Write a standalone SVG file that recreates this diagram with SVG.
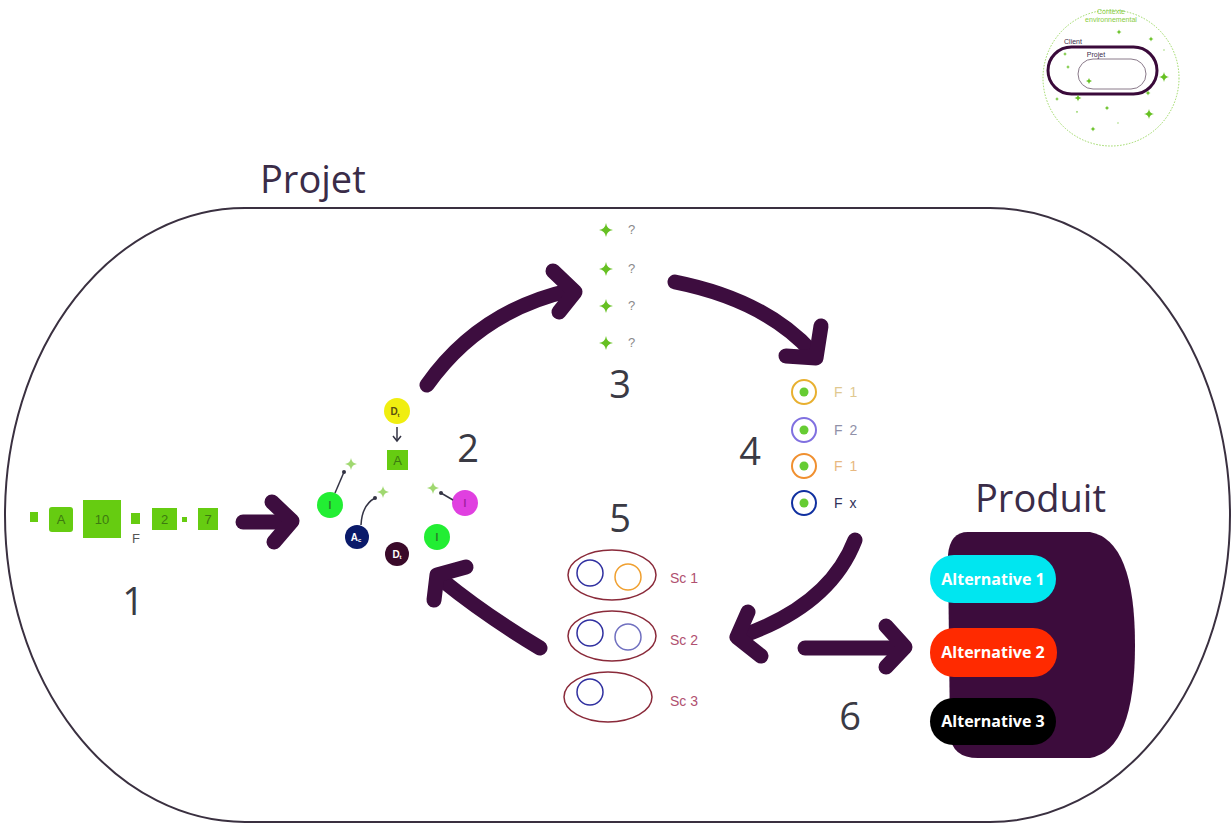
<svg xmlns="http://www.w3.org/2000/svg" xmlns:xlink="http://www.w3.org/1999/xlink" width="1232" height="826" viewBox="0 0 1232 826">
<style>
  .big { font-family: "Open Sans", "DejaVu Sans", sans-serif; fill: #3a2c48; }
  .num { font-family: "Open Sans", "DejaVu Sans", sans-serif; font-size: 38px; fill: #3a3a44; text-anchor: middle; }
  .arrow { fill: none; stroke: #3d0d3f; stroke-width: 15; stroke-linecap: round; stroke-linejoin: round; }
  .sq { fill: #66cc11; }
  .sqt { font-family: "Liberation Sans", sans-serif; font-size: 13px; fill: #3d7a10; text-anchor: middle; }
  .ct { font-family: "Liberation Sans", sans-serif; font-size: 10px; text-anchor: middle; font-weight: bold; }
  .q { font-family: "Liberation Sans", sans-serif; font-size: 13px; fill: #8a8a8a; }
  .ft { font-family: "Liberation Sans", sans-serif; font-size: 14px; letter-spacing: 1.5px; }
  .sc { font-family: "Liberation Sans", sans-serif; font-size: 14px; fill: #b05070; }
  .alt { font-family: "Open Sans", "Liberation Sans", sans-serif; font-size: 16px; font-weight: bold; fill: #ffffff; text-anchor: middle; }
  .tiny { font-family: "Liberation Sans", sans-serif; font-size: 7px; text-anchor: middle; }
  .spark { fill: #66c022; }
</style>
<defs>
  <path id="star" d="M0,-1 Q0.12,-0.12 1,0 Q0.12,0.12 0,1 Q-0.12,0.12 -1,0 Q-0.12,-0.12 0,-1Z"/>
</defs>
<rect width="1232" height="826" fill="#ffffff"/>

<g id="inset">
  <circle cx="1111" cy="78" r="68" fill="none" stroke="#9ad860" stroke-width="1" stroke-dasharray="1.5,1.5"/>
  <text class="tiny" x="1111" y="14" fill="#88cc44">Contexte</text>
  <text class="tiny" x="1111" y="22" fill="#88cc44">environnemental</text>
  <rect x="1048" y="47" width="109" height="47" rx="23.5" fill="none" stroke="#3a0a3a" stroke-width="3"/>
  <text class="tiny" x="1073" y="44" fill="#3a2a4a">Client</text>
  <rect x="1078" y="59" width="68" height="30" rx="15" fill="none" stroke="#8a7a8a" stroke-width="1"/>
  <text class="tiny" x="1096" y="57" fill="#3a2a4a">Projet</text>
  <g class="spark">
    <use xlink:href="#star" transform="translate(1119,32) scale(2.5)"/>
    <use xlink:href="#star" transform="translate(1151,39) scale(2.5)"/>
    <use xlink:href="#star" transform="translate(1164,50) scale(1)"/>
    <use xlink:href="#star" transform="translate(1065,54) scale(2)"/>
    <use xlink:href="#star" transform="translate(1068,67) scale(2)"/>
    <use xlink:href="#star" transform="translate(1089,81) scale(3)"/>
    <use xlink:href="#star" transform="translate(1164,77) scale(5)"/>
    <use xlink:href="#star" transform="translate(1148,93) scale(2.5)"/>
    <use xlink:href="#star" transform="translate(1057,99) scale(2)"/>
    <use xlink:href="#star" transform="translate(1078,98) scale(3.5)"/>
    <use xlink:href="#star" transform="translate(1077,112) scale(1.2)"/>
    <use xlink:href="#star" transform="translate(1107,108) scale(2.2)"/>
    <use xlink:href="#star" transform="translate(1149,114) scale(5)"/>
    <use xlink:href="#star" transform="translate(1118,123) scale(1)"/>
    <use xlink:href="#star" transform="translate(1093,129) scale(2.5)"/>
  </g>
</g>

<g id="projet">
  <rect x="5" y="208" width="1225" height="614" rx="240" ry="307" fill="none" stroke="#3a3040" stroke-width="2"/>
  <text class="big" x="260" y="193" font-size="38">Projet</text>
</g>

<g id="node1">
  <rect class="sq" x="30" y="512" width="8" height="10"/>
  <rect class="sq" x="49" y="507" width="24" height="25" rx="3"/>
  <text class="sqt" x="61" y="524">A</text>
  <rect class="sq" x="83" y="500" width="38" height="38"/>
  <text class="sqt" x="102" y="524">10</text>
  <rect class="sq" x="131" y="513" width="9" height="11"/>
  <text class="sqt" x="136" y="543" style="fill:#555555">F</text>
  <rect class="sq" x="152" y="508" width="25" height="22"/>
  <text class="sqt" x="164.5" y="524">2</text>
  <rect class="sq" x="182" y="517" width="5" height="5"/>
  <rect class="sq" x="198" y="508" width="20" height="22"/>
  <text class="sqt" x="208" y="524">7</text>
  <text class="num" x="133" y="615">1</text>
</g>

<g id="node2">
  <circle cx="397" cy="411" r="13" fill="#f0ee10"/>
  <text class="ct" x="395" y="415" fill="#5a5010">D<tspan font-size="6" dy="2">t</tspan></text>
  <line x1="397" y1="427" x2="397" y2="440" stroke="#333344" stroke-width="1.5"/>
  <path d="M393,436 L397,441 L401,436" fill="none" stroke="#333344" stroke-width="1.5"/>
  <rect class="sq" x="387" y="450" width="21" height="20"/>
  <text class="sqt" x="397.5" y="465" font-size="11">A</text>
  <circle cx="330" cy="505" r="13" fill="#22ee33"/>
  <text class="ct" x="330" y="509" fill="#2a7a2a" font-size="8">I</text>
  <circle cx="357" cy="537" r="12" fill="#0a1a6a"/>
  <text class="ct" x="356" y="541" fill="#ffffff">A<tspan font-size="6" dy="1">c</tspan></text>
  <circle cx="397" cy="554" r="12" fill="#3a0a2a"/>
  <text class="ct" x="397" y="558" fill="#ffffff">D<tspan font-size="6" dy="1">t</tspan></text>
  <circle cx="437" cy="537" r="13" fill="#22ee33"/>
  <text class="ct" x="437" y="541" fill="#2a7a2a" font-size="8">I</text>
  <circle cx="465" cy="503" r="13" fill="#e040e0"/>
  <text class="ct" x="465" y="507" fill="#a020a0" font-size="8">I</text>
  <path d="M335,493 L344,472" fill="none" stroke="#333344" stroke-width="1.5"/>
  <circle cx="344" cy="472" r="2" fill="#333344"/>
  <use xlink:href="#star" transform="translate(351,464) scale(6)" style="fill:#a0d870"/>
  <path d="M361,525 Q362,505 375,498" fill="none" stroke="#333344" stroke-width="1.5"/>
  <circle cx="375" cy="498" r="2" fill="#333344"/>
  <use xlink:href="#star" transform="translate(383,492) scale(6)" style="fill:#a0d870"/>
  <path d="M453,500 L441,493" fill="none" stroke="#333344" stroke-width="1.5"/>
  <circle cx="441" cy="493" r="2" fill="#333344"/>
  <use xlink:href="#star" transform="translate(433,488) scale(6)" style="fill:#a0d870"/>
  <text class="num" x="468" y="462">2</text>
</g>

<g id="node3">
  <use class="spark" xlink:href="#star" transform="translate(606,230) scale(7)"/>
  <use class="spark" xlink:href="#star" transform="translate(606,269) scale(7)"/>
  <use class="spark" xlink:href="#star" transform="translate(606,306) scale(7)"/>
  <use class="spark" xlink:href="#star" transform="translate(606,343) scale(7)"/>
  <text class="q" x="628" y="234">?</text>
  <text class="q" x="628" y="273">?</text>
  <text class="q" x="628" y="310">?</text>
  <text class="q" x="628" y="347">?</text>
  <text class="num" x="620" y="398">3</text>
</g>

<g id="node4">
  <circle cx="804" cy="392" r="12" fill="none" stroke="#e8b030" stroke-width="2"/>
  <circle cx="804" cy="392" r="4.5" fill="#66cc33"/>
  <circle cx="804" cy="430" r="12" fill="none" stroke="#8070e0" stroke-width="2"/>
  <circle cx="804" cy="430" r="4.5" fill="#66cc33"/>
  <circle cx="804" cy="466" r="12" fill="none" stroke="#f09030" stroke-width="2"/>
  <circle cx="804" cy="466" r="4.5" fill="#66cc33"/>
  <circle cx="804" cy="503" r="12" fill="none" stroke="#1030a0" stroke-width="2"/>
  <circle cx="804" cy="503" r="4.5" fill="#66cc33"/>
  <text class="ft" x="834" y="397" fill="#e0c890">F 1</text>
  <text class="ft" x="834" y="435" fill="#9090a8">F 2</text>
  <text class="ft" x="834" y="471" fill="#e8b880">F 1</text>
  <text class="ft" x="834" y="508" fill="#303058">F x</text>
  <text class="num" x="750" y="465">4</text>
</g>

<g id="node5">
  <ellipse cx="612" cy="575" rx="44" ry="25" fill="none" stroke="#8a2a3a" stroke-width="1.5"/>
  <circle cx="590" cy="573" r="13" fill="none" stroke="#3030a0" stroke-width="1.5"/>
  <circle cx="628" cy="577" r="13" fill="none" stroke="#f0a030" stroke-width="1.5"/>
  <ellipse cx="612" cy="636" rx="44" ry="25" fill="none" stroke="#8a2a3a" stroke-width="1.5"/>
  <circle cx="590" cy="633" r="13" fill="none" stroke="#3030a0" stroke-width="1.5"/>
  <circle cx="628" cy="637" r="13" fill="none" stroke="#7070c0" stroke-width="1.5"/>
  <ellipse cx="608" cy="697" rx="44" ry="25" fill="none" stroke="#8a2a3a" stroke-width="1.5"/>
  <circle cx="590" cy="692" r="13" fill="none" stroke="#3030a0" stroke-width="1.5"/>
  <text class="sc" x="670" y="583">Sc 1</text>
  <text class="sc" x="670" y="645">Sc 2</text>
  <text class="sc" x="670" y="706">Sc 3</text>
  <text class="num" x="620" y="532">5</text>
</g>

<g id="produit">
  <path d="M968,532 L1090,532 Q1135,540 1135,645 Q1135,750 1090,758 L978,758 Q952,758 950,735 L948,555 Q950,532 968,532 Z" fill="#3c0c3c"/>
  <text class="big" x="975" y="512" font-size="38">Produit</text>
  <rect x="930" y="555" width="126" height="48" rx="24" fill="#00e6f0"/>
  <text class="alt" x="993" y="585">Alternative 1</text>
  <rect x="930" y="628" width="127" height="49" rx="24" fill="#ff2a00"/>
  <text class="alt" x="993" y="658">Alternative 2</text>
  <rect x="930" y="698" width="126" height="47" rx="23.5" fill="#000000"/>
  <text class="alt" x="993" y="727">Alternative 3</text>
  <text class="num" x="850" y="730">6</text>
</g>

<g id="connectors">
  <path class="arrow" d="M243,522 L290,522"/>
  <polyline class="arrow" points="272,502 292,521 274,542"/>
  <path class="arrow" d="M427,385 Q480,310 572,290"/>
  <polyline class="arrow" points="553,271 575,292 559,312"/>
  <path class="arrow" d="M675,282 Q765,300 812,352"/>
  <polyline class="arrow" points="821,326 816,358 786,356"/>
  <path class="arrow" d="M855,540 Q830,605 742,636"/>
  <polyline class="arrow" points="748,612 737,637 761,656"/>
  <path class="arrow" d="M805,648 L900,648"/>
  <polyline class="arrow" points="886,626 905,647 886,667"/>
  <path class="arrow" d="M540,648 Q485,615 442,580"/>
  <polyline class="arrow" points="466,567 437,575 434,600"/>
</g>
</svg>
